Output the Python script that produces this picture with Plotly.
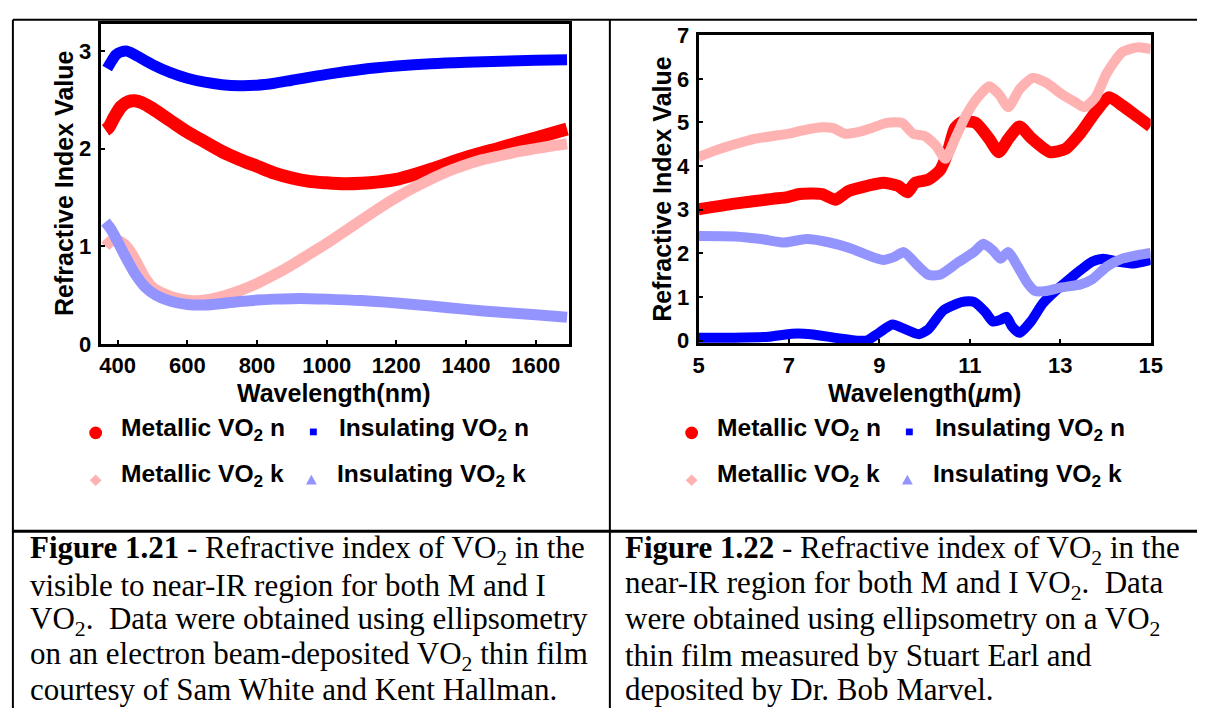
import plotly.graph_objects as go

W, H = 1209, 721

# ---- Figure 1.21: visible to near-IR, wavelength in nm ----
vis_metal_n_wl = [365, 375, 390, 410, 430, 450, 470, 500, 550, 600, 650, 700, 750, 800, 850,
                  900, 950, 1000, 1050, 1100, 1150, 1200, 1300, 1400, 1500, 1600, 1690]
vis_metal_n = [2.19, 2.22, 2.32, 2.43, 2.48, 2.49, 2.47, 2.41, 2.29, 2.17, 2.07, 1.97, 1.89, 1.82, 1.75,
               1.70, 1.665, 1.65, 1.64, 1.645, 1.66, 1.685, 1.79, 1.91, 2.01, 2.11, 2.20]

vis_insul_n_wl = [370, 380, 395, 410, 425, 440, 460, 500, 550, 600, 650, 700, 750, 800, 850,
                  900, 1000, 1100, 1200, 1300, 1400, 1500, 1600, 1690]
vis_insul_n = [2.82, 2.88, 2.96, 2.99, 3.00, 2.98, 2.94, 2.86, 2.78, 2.72, 2.68, 2.655, 2.645, 2.65, 2.67,
               2.70, 2.76, 2.81, 2.845, 2.87, 2.885, 2.895, 2.905, 2.91]

vis_metal_k_wl = [365, 380, 400, 420, 440, 460, 480, 500, 530, 560, 600, 640, 680, 720, 760, 800, 850,
                  900, 950, 1000, 1050, 1100, 1150, 1200, 1250, 1300, 1350, 1400, 1450, 1500, 1550,
                  1600, 1650, 1690]
vis_metal_k = [1.00, 1.05, 1.06, 1.02, 0.93, 0.80, 0.67, 0.58, 0.52, 0.48, 0.45, 0.445, 0.47, 0.51, 0.56,
               0.62, 0.71, 0.81, 0.92, 1.03, 1.15, 1.27, 1.39, 1.50, 1.60, 1.69, 1.77, 1.835, 1.89,
               1.93, 1.97, 2.00, 2.03, 2.05]

vis_insul_k_wl = [365, 380, 400, 420, 450, 480, 510, 550, 600, 650, 700, 750, 800, 850, 900, 950,
                  1000, 1100, 1200, 1300, 1400, 1500, 1600, 1690]
vis_insul_k = [1.25, 1.18, 1.05, 0.91, 0.72, 0.58, 0.50, 0.44, 0.405, 0.40, 0.415, 0.435, 0.45, 0.46,
               0.465, 0.465, 0.46, 0.445, 0.42, 0.39, 0.355, 0.325, 0.30, 0.275]

# ---- Figure 1.22: infrared, wavelength in um ----
ir_metal_n_wl = [5.0, 5.8, 6.64, 6.97, 7.23, 7.73, 8.03, 8.32, 8.74, 9.08, 9.41, 9.62, 9.79, 10.08,
                 10.34, 10.5, 10.67, 10.84, 11.13, 11.43, 11.64, 11.85, 12.1, 12.35, 12.77, 13.11,
                 13.45, 13.78, 14.08, 14.37, 14.71, 15.0]
ir_metal_n = [3.01, 3.14, 3.25, 3.29, 3.36, 3.36, 3.23, 3.43, 3.55, 3.62, 3.55, 3.40, 3.62, 3.69,
              3.91, 4.28, 4.87, 5.02, 4.99, 4.62, 4.32, 4.62, 4.91, 4.65, 4.32, 4.39,
              4.76, 5.24, 5.58, 5.39, 5.13, 4.91]

ir_insul_n_wl = [5.0, 5.8, 6.55, 7.06, 7.48, 8.07, 8.57, 8.74, 8.99, 9.29, 9.58, 9.87, 10.08, 10.42,
                 10.84, 11.09, 11.34, 11.51, 11.68, 11.81, 11.93, 12.1, 12.35, 12.61, 12.86, 13.19,
                 13.45, 13.7, 13.95, 14.29, 14.62, 15.0]
ir_insul_n = [0.07, 0.07, 0.09, 0.16, 0.15, 0.06, 0.0, 0.01, 0.18, 0.37, 0.26, 0.15, 0.26, 0.70,
              0.89, 0.89, 0.66, 0.44, 0.48, 0.55, 0.33, 0.18, 0.44, 0.85, 1.11, 1.40,
              1.62, 1.81, 1.88, 1.81, 1.77, 1.85]

ir_metal_k_wl = [5.0, 5.38, 5.8, 6.22, 6.64, 6.97, 7.31, 7.73, 7.98, 8.24, 8.57, 8.82, 9.16, 9.5,
                 9.75, 10.0, 10.25, 10.46, 10.67, 10.92, 11.18, 11.43, 11.64, 11.85, 12.1, 12.39,
                 12.69, 13.03, 13.32, 13.53, 13.78, 14.03, 14.37, 14.71, 15.0]
ir_metal_k = [4.21, 4.36, 4.50, 4.62, 4.69, 4.74, 4.82, 4.89, 4.87, 4.74, 4.79, 4.87, 4.99, 4.99,
              4.74, 4.69, 4.47, 4.17, 4.62, 5.17, 5.58, 5.83, 5.65, 5.35, 5.76, 6.02,
              5.91, 5.65, 5.47, 5.35, 5.58, 6.13, 6.61, 6.72, 6.68]

ir_insul_k_wl = [5.0, 5.8, 6.39, 6.89, 7.39, 7.9, 8.4, 8.74, 9.08, 9.33, 9.54, 9.83, 10.08, 10.34,
                 10.76, 11.09, 11.3, 11.51, 11.68, 11.85, 12.06, 12.27, 12.44, 12.69, 13.03, 13.45,
                 13.7, 14.03, 14.37, 14.71, 15.0]
ir_insul_k = [2.40, 2.39, 2.33, 2.25, 2.33, 2.25, 2.10, 1.96, 1.85, 1.92, 2.03, 1.74, 1.51, 1.51,
              1.81, 2.03, 2.22, 2.07, 1.88, 2.03, 1.70, 1.33, 1.14, 1.14, 1.22, 1.29,
              1.40, 1.70, 1.88, 1.96, 2.01]

vis_xticks = [400, 600, 800, 1000, 1200, 1400, 1600]
vis_yticks = [0, 1, 2, 3]
ir_xticks = [5, 7, 9, 11, 13, 15]
ir_yticks = [0, 1, 2, 3, 4, 5, 6, 7]

series_names = ["Metallic VO<sub>2</sub> n", "Insulating VO<sub>2</sub> n",
                "Metallic VO<sub>2</sub> k", "Insulating VO<sub>2</sub> k"]

RED = "#FF0000"
BLUE = "#0000FF"
PINK = "#FFB2B2"
LAV = "#9494FF"
colors = [RED, BLUE, PINK, LAV]
widths = [13, 11, 11, 11]

SANS = "Liberation Sans, Arial, sans-serif"
SERIF = "Liberation Serif, Times New Roman, serif"


def px(x):
    return x / W


def py(y):
    return 1 - y / H


fig = go.Figure()

vis_sets = [(vis_metal_n_wl, vis_metal_n), (vis_insul_n_wl, vis_insul_n),
            (vis_metal_k_wl, vis_metal_k), (vis_insul_k_wl, vis_insul_k)]
ir_sets = [(ir_metal_n_wl, ir_metal_n), (ir_insul_n_wl, ir_insul_n),
           (ir_metal_k_wl, ir_metal_k), (ir_insul_k_wl, ir_insul_k)]

for (xs, ys), c, w in zip(vis_sets, colors, widths):
    fig.add_trace(go.Scatter(x=xs, y=ys, mode="lines", xaxis="x", yaxis="y",
                             line=dict(color=c, width=w, shape="spline", smoothing=0.8),
                             showlegend=False, hoverinfo="skip"))
for (xs, ys), c, w in zip(ir_sets, colors, widths):
    fig.add_trace(go.Scatter(x=xs, y=ys, mode="lines", xaxis="x2", yaxis="y2",
                             line=dict(color=c, width=w - 1, shape="spline", smoothing=0.6),
                             showlegend=False, hoverinfo="skip"))

axis_common = dict(showline=True, mirror=True, linewidth=3, linecolor="black",
                   ticks="inside", ticklen=4, tickwidth=2, tickcolor="black",
                   showgrid=False, zeroline=False, fixedrange=True,
                   tickfont=dict(family=SANS, size=22, color="black", weight="bold"))

fig.update_layout(
    width=W, height=H,
    margin=dict(l=0, r=0, t=0, b=0),
    paper_bgcolor="white", plot_bgcolor="rgba(0,0,0,0)",
    showlegend=False,
    xaxis=dict(domain=[px(96), px(572)], range=[351, 1697], tickvals=vis_xticks,
               anchor="y", **axis_common),
    yaxis=dict(domain=[py(344), py(12)], range=[0, 3.28], tickvals=vis_yticks,
               anchor="x", ticklabelstandoff=2, **axis_common),
    xaxis2=dict(domain=[px(703), px(1162)], range=[5, 15], tickvals=ir_xticks,
                anchor="y2", **axis_common),
    yaxis2=dict(domain=[py(343), py(24)], range=[-0.055, 7.0], tickvals=ir_yticks,
                anchor="x2", ticklabelstandoff=2, **axis_common),
)

annotations = []

# Axis titles
title_font = dict(family=SANS, size=25, color="black", weight="bold")
for x, y, txt in [(333, 395, "Wavelength(nm)"), (932, 395, "Wavelength(<i>μ</i>m)")]:
    annotations.append(dict(x=px(x), y=py(y), xref="paper", yref="paper", text=txt,
                            showarrow=False, xanchor="center", yanchor="middle", font=title_font))
for x, y in [(59, 177), (666, 183)]:
    annotations.append(dict(x=px(x), y=py(y), xref="paper", yref="paper",
                            text="Refractive Index Value", textangle=-90,
                            showarrow=False, xanchor="center", yanchor="middle", font=title_font))

# Legend labels
text_pos = [(115, 432), (336, 432), (115, 480), (334, 480)]
leg_font = dict(family=SANS, size=24.6, color="black", weight="bold")
for offset in (0, 605):
    for (tx, ty), name in zip(text_pos, series_names):
        annotations.append(dict(x=px(tx + offset), y=py(ty), xref="paper", yref="paper",
                                text=name, showarrow=False, xanchor="left", yanchor="middle",
                                font=leg_font))

# Captions (the last line is kept inside the page edge)
NB = "\u00a0"
cap_left = [
    "<b>Figure 1.21</b> - Refractive index of VO<sub>2</sub> in the",
    "visible to near-IR region for both M and I",
    "VO<sub>2</sub>." + NB + " Data were obtained using ellipsometry",
    "on an electron beam-deposited VO<sub>2</sub> thin film",
    "courtesy of Sam White and Kent Hallman.",
]
cap_right = [
    "<b>Figure 1.22</b> - Refractive index of VO<sub>2</sub> in the",
    "near-IR region for both M and I VO<sub>2</sub>." + NB + " Data",
    "were obtained using ellipsometry on a VO<sub>2</sub>",
    "thin film measured by Stuart Earl and",
    "deposited by Dr. Bob Marvel.",
]
cap_font = dict(family=SERIF, size=31, color="black")
line_y = [557, 594, 631, 667, 702]
for x0, lines in [(23, cap_left), (627, cap_right)]:
    for ly, txt in zip(line_y, lines):
        annotations.append(dict(x=px(x0), y=py(ly), xref="paper", yref="paper", text=txt,
                                showarrow=False, xanchor="left", yanchor="middle", font=cap_font,
                                borderpad=0))

fig.update_layout(annotations=annotations)

shapes = []

# Table rules
for x0, y0, x1, y1, w in [(7, 8, W, 8, 2), (7, 8, 7, H, 2), (613, 8, 613, H, 2), (7, 538, W, 538, 3)]:
    shapes.append(dict(type="line", xref="paper", yref="paper",
                       x0=px(x0), y0=py(y0), x1=px(x1), y1=py(y1),
                       line=dict(color="black", width=w)))


# Legend keys: circle, square, diamond, triangle (pixel centre, half-size)
def key_shape(kind, cx, cy, r, color):
    base = dict(xref="paper", yref="paper", fillcolor=color, line=dict(width=0))
    if kind == "circle":
        return dict(type="circle", x0=px(cx - r), x1=px(cx + r), y0=py(cy + r), y1=py(cy - r), **base)
    if kind == "square":
        return dict(type="rect", x0=px(cx - r), x1=px(cx + r), y0=py(cy + r), y1=py(cy - r), **base)
    if kind == "diamond":
        pts = [(cx, cy - r), (cx + r, cy), (cx, cy + r), (cx - r, cy)]
    else:
        pts = [(cx, cy - r), (cx + r, cy + r * 0.8), (cx - r, cy + r * 0.8)]
    path = "M " + " L ".join(f"{px(a):.6f},{py(b):.6f}" for a, b in pts) + " Z"
    return dict(type="path", path=path, **base)


key_specs = [("circle", 91, 436, 6.5), ("square", 312, 435, 3.5),
             ("diamond", 91, 485, 6), ("triangle", 310, 485, 5.5)]
for offset in (0, 605):
    for (kind, kx, ky, r), c in zip(key_specs, colors):
        shapes.append(key_shape(kind, kx + offset, ky, r, c))

fig.update_layout(shapes=shapes)

fig.write_html("out.html", config={"displayModeBar": False})
